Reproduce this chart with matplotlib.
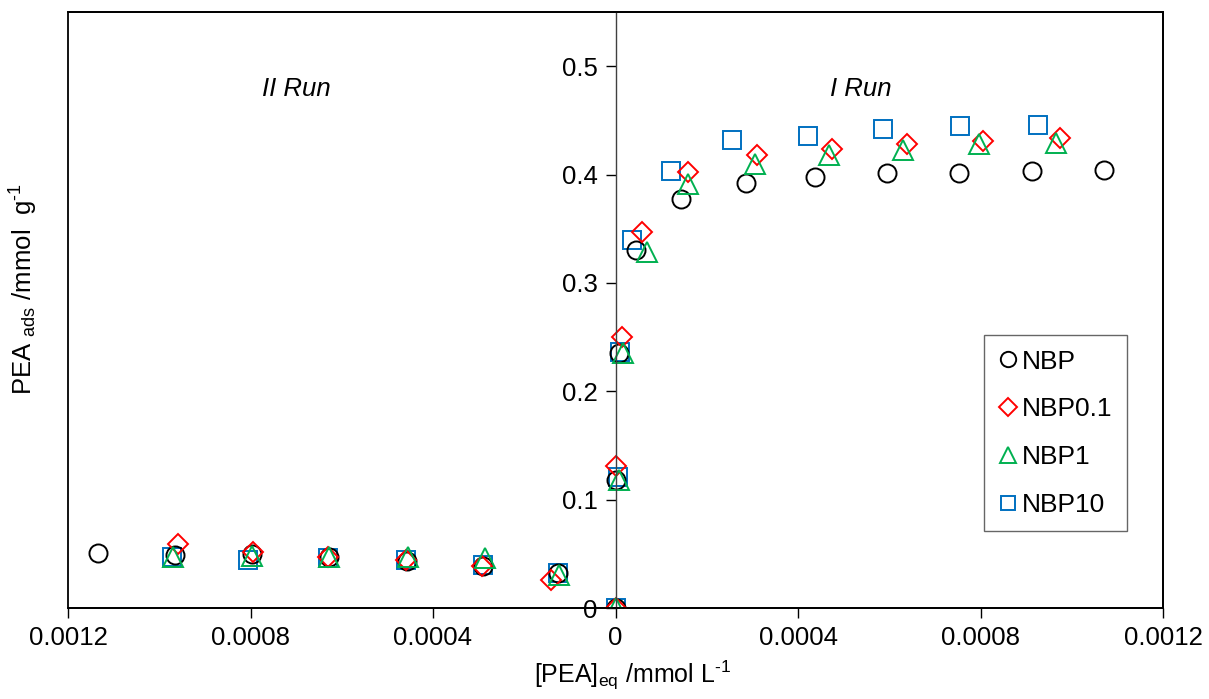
import matplotlib
matplotlib.use("Agg")
import matplotlib.pyplot as plt
from matplotlib.ticker import FuncFormatter
import numpy as np

plt.rcParams['font.family'] = ['Liberation Sans', 'DejaVu Sans']
plt.rcParams['mathtext.fontset'] = 'custom'
plt.rcParams['mathtext.rm'] = 'Liberation Sans'
plt.rcParams['mathtext.it'] = 'Liberation Sans:italic'
plt.rcParams['mathtext.default'] = 'regular'

# ---- data (x = [PEA]eq in mmol/L; negative = II Run, positive = I Run) ----
nbp_x = [-0.001134, -0.000966, -0.000796, -0.000628, -0.000458, -0.000291, -0.000127,
         0.0, 0.000002, 0.000008, 0.0000447, 0.000144, 0.000285, 0.000438, 0.000595,
         0.000753, 0.000913, 0.001071]
nbp_y = [0.0505, 0.049, 0.0495, 0.0473, 0.0437, 0.0387, 0.032,
         0.0, 0.118, 0.235, 0.330, 0.377, 0.392, 0.398, 0.401, 0.401, 0.403, 0.404]

nbp01_x = [-0.000958, -0.000794, -0.000630, -0.000459, -0.000293, -0.000141,
           0.0, 0.0, 0.000015, 0.000059, 0.000159, 0.000311, 0.000475, 0.000639,
           0.000806, 0.000975]
nbp01_y = [0.059, 0.052, 0.0467, 0.0443, 0.0387, 0.0258,
           0.0, 0.131, 0.250, 0.347, 0.4025, 0.4176, 0.4234, 0.4283, 0.431, 0.434]

nbp1_x = [-0.000970, -0.000797, -0.000628, -0.000455, -0.000285, -0.000123,
          0.0, 0.0000073, 0.000016, 0.000070, 0.000159, 0.000305, 0.000468, 0.000631,
          0.000796, 0.000965]
nbp1_y = [0.0473, 0.048, 0.0467, 0.0473, 0.0458, 0.0304,
          0.0, 0.118, 0.235, 0.3287, 0.391, 0.4096, 0.418, 0.4225, 0.4278, 0.4293]

nbp10_x = [-0.000972, -0.000806, -0.000630, -0.000459, -0.000291, -0.000127,
           0.0, 0.000005, 0.00001, 0.000037, 0.000121, 0.000255, 0.000422, 0.000587,
           0.000755, 0.000926]
nbp10_y = [0.0473, 0.0443, 0.0464, 0.0443, 0.0397, 0.0326,
           0.0, 0.121, 0.236, 0.3395, 0.403, 0.4317, 0.436, 0.442, 0.4446, 0.446]

x_ticks = [-0.0012, -0.0008, -0.0004, 0.0, 0.0004, 0.0008, 0.0012]
y_ticks = [0, 0.1, 0.2, 0.3, 0.4, 0.5]

fig = plt.figure(figsize=(12.09, 6.99), dpi=100)
ax = fig.add_axes([68/1209, 91/699, 1095/1209, 596/699])

mew = 1.4
h10, = ax.plot(nbp10_x, nbp10_y, ls='none', marker='s', ms=12.5, mfc='none',
               mec='#0070C0', mew=mew, label='NBP10')
h0, = ax.plot(nbp_x, nbp_y, ls='none', marker='o', ms=13, mfc='none',
              mec='black', mew=mew, label='NBP')
h01, = ax.plot(nbp01_x, nbp01_y, ls='none', marker='D', ms=10.5, mfc='none',
               mec='#FF0000', mew=mew, label='NBP0.1')
h1, = ax.plot(nbp1_x, nbp1_y, ls='none', marker='^', ms=14, mfc='none',
              mec='#00B050', mew=mew, label='NBP1')

ax.set_xlim(-0.0012, 0.0012)
ax.set_ylim(0, 0.55)

# central y axis
ax.spines['left'].set_position(('data', 0))
ax.spines['left'].set_color('#404040')
ax.spines['left'].set_linewidth(1.0)
for s in ['top', 'right', 'bottom']:
    ax.spines[s].set_color('black')
    ax.spines[s].set_linewidth(1.3)
ax.patch.set_edgecolor('black')
ax.patch.set_linewidth(1.3)

ax.set_xticks(x_ticks)
ax.set_yticks(y_ticks)
ax.xaxis.set_major_formatter(FuncFormatter(lambda v, p: '0' if abs(v) < 1e-12 else f'{abs(v):g}'))
ax.yaxis.set_major_formatter(FuncFormatter(lambda v, p: '0' if abs(v) < 1e-12 else f'{v:g}'))
ax.tick_params(axis='both', direction='out', length=7, width=1.0, labelsize=18.5, colors='black')
ax.tick_params(axis='x', pad=6)
ax.tick_params(axis='y', pad=6)

ax.set_xlabel(r'[PEA]$_{eq}$ /mmol L$^{\text{-1}}$', fontsize=18)
ax.xaxis.set_label_coords(0.516, -0.085)
ax.set_ylabel(r'PEA $_{ads}$ /mmol  g$^{\text{-1}}$', fontsize=18.5)
ax.yaxis.set_label_coords(-0.026, 0.535)

ax.text(-0.0007, 0.479, 'II Run', fontsize=18.5, style='italic', ha='center', va='center')
ax.text(0.000537, 0.479, 'I Run', fontsize=18.5, style='italic', ha='center', va='center')

leg = ax.legend(handles=[h0, h01, h1, h10], loc='upper left',
                bbox_to_anchor=(0.8365, 0.458), fontsize=19, frameon=True,
                fancybox=False, edgecolor='#404040', markerscale=0.85,
                handlelength=0.7, handletextpad=0.2, labelspacing=0.9,
                borderpad=0.55, borderaxespad=0)
leg.get_frame().set_linewidth(1.0)

fig.savefig('out.png', dpi=100)
